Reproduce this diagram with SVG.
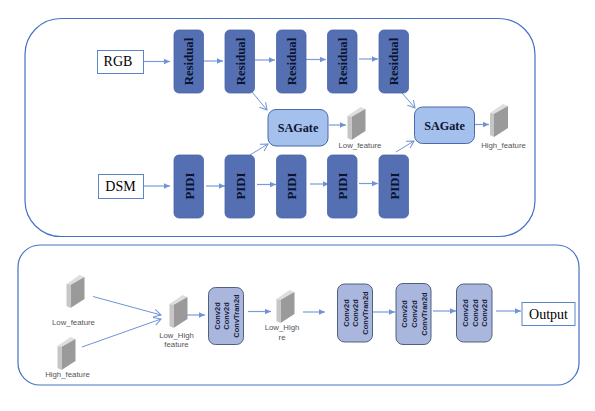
<svg xmlns="http://www.w3.org/2000/svg" width="595" height="411" viewBox="0 0 595 411">
<style>
.panel{fill:#fff;stroke:#4472c4;stroke-width:1.2}
.res{fill:#5470b3;stroke:#4a66a8;stroke-width:.8}
.sag{fill:#a4c0ec;stroke:#4a6aa8;stroke-width:1}
.conv{fill:#a9b6de;stroke:#44546a;stroke-width:.9}
.io{fill:#fff;stroke:#5b86c9;stroke-width:1}
.st{font-family:"Liberation Serif",serif;fill:#000;font-size:14px}
.b{font-weight:bold;font-size:12.800px;fill:#0b1330}
.s{font-size:12.200px}
.c{font-family:"Liberation Sans",sans-serif;font-weight:bold;font-size:7.500px;fill:#1a2238}
.l{font-family:"Liberation Sans",sans-serif;font-size:7.800px;fill:#555}
.cn{fill:none;stroke:#7a9bd8;stroke-width:1.200;marker-end:url(#a)}
.o{fill:none;stroke:#6f94d6;stroke-width:1;marker-end:url(#v)}
</style>
<defs>
<marker id="a" markerWidth="7" markerHeight="6" refX="6" refY="3" orient="auto" markerUnits="userSpaceOnUse"><path d="M0 0.300L6 3L0 5.700z" fill="#6f94d6"/></marker>
<marker id="v" markerWidth="10" markerHeight="10" refX="8" refY="5" orient="auto" markerUnits="userSpaceOnUse"><path d="M1 1L8 5L1 9" fill="none" stroke="#6f94d6" stroke-width="1"/></marker>
<g id="cub"><polygon points="0,9 13,0 18,2 5,11" fill="#dedede"/><polygon points="4,10 18,2 18,24 4,33" fill="#9a9a9a"/><polygon points="0,9 4,10 4,33 0,31" fill="#c6c6c6"/></g>
</defs>
<rect width="595" height="411" fill="#fff"/>
<rect class="panel" x="25" y="18.500" width="510" height="218" rx="36"/>
<rect class="panel" x="18" y="245" width="561" height="140" rx="22"/>
<g id="connectors">
<path class="cn" d="M144 61.500H170"/><path class="cn" d="M203.500 61H223"/><path class="cn" d="M255 60H275"/><path class="cn" d="M306 59.500H326"/><path class="cn" d="M359 59H378"/>
<path class="cn" d="M144 186H170"/><path class="cn" d="M206 186H225"/><path class="cn" d="M257 184.500H276"/><path class="cn" d="M310 184H329"/><path class="cn" d="M359 183.500H378"/>
<path class="o" d="M252 92L267 110"/><path class="o" d="M250 155L268 144"/>
<path class="o" d="M402 93L415 108"/><path class="o" d="M396 152L414 141"/>
<path class="cn" d="M329 125H346"/><path class="cn" d="M475 124.500H489"/>
<path class="o" d="M93 296.500L161 315"/><path class="o" d="M82 347L161 319"/>
<path class="cn" d="M186 315H205"/><path class="cn" d="M248 311.500H271"/><path class="cn" d="M303 312H325"/>
<path class="cn" d="M373 312H395"/><path class="cn" d="M433 311H456"/><path class="cn" d="M496 311H521"/>
</g>
<g id="rgb"><rect class="io" x="97.500" y="50.500" width="46" height="23"/><text class="st" x="118" y="66" text-anchor="middle">RGB</text></g>
<g id="dsm"><rect class="io" x="98.500" y="174.500" width="45" height="24"/><text class="st" x="120.500" y="191" text-anchor="middle">DSM</text></g>
<g id="res1"><rect class="res" x="174" y="30" width="29.500" height="63" rx="5"/><text class="st b" transform="translate(193 61.500) rotate(-90)" text-anchor="middle">Residual</text></g>
<g id="res2"><rect class="res" x="225" y="30" width="29.500" height="63" rx="5"/><text class="st b" transform="translate(244.500 61.500) rotate(-90)" text-anchor="middle">Residual</text></g>
<g id="res3"><rect class="res" x="276.500" y="30" width="29.500" height="63" rx="5"/><text class="st b" transform="translate(295.500 61.500) rotate(-90)" text-anchor="middle">Residual</text></g>
<g id="res4"><rect class="res" x="327.500" y="30" width="29.500" height="63" rx="5"/><text class="st b" transform="translate(346.500 61.500) rotate(-90)" text-anchor="middle">Residual</text></g>
<g id="res5"><rect class="res" x="379" y="30" width="29.500" height="63" rx="5"/><text class="st b" transform="translate(398 61.500) rotate(-90)" text-anchor="middle">Residual</text></g>
<g id="pidi1"><rect class="res" x="174" y="155" width="29.500" height="63" rx="5"/><text class="st b" transform="translate(193.500 186) rotate(-90)" text-anchor="middle">PIDI</text></g>
<g id="pidi2"><rect class="res" x="225" y="155" width="29.500" height="63" rx="5"/><text class="st b" transform="translate(244.500 186) rotate(-90)" text-anchor="middle">PIDI</text></g>
<g id="pidi3"><rect class="res" x="276.500" y="155" width="29.500" height="63" rx="5"/><text class="st b" transform="translate(296 186) rotate(-90)" text-anchor="middle">PIDI</text></g>
<g id="pidi4"><rect class="res" x="327.500" y="155" width="29.500" height="63" rx="5"/><text class="st b" transform="translate(347 186) rotate(-90)" text-anchor="middle">PIDI</text></g>
<g id="pidi5"><rect class="res" x="379" y="155" width="29.500" height="63" rx="5"/><text class="st b" transform="translate(399 186) rotate(-90)" text-anchor="middle">PIDI</text></g>
<g id="sagate1"><rect class="sag" x="268" y="109.500" width="60" height="36.500" rx="8"/><text class="st b s" x="298" y="132" text-anchor="middle">SAGate</text></g>
<g id="sagate2"><rect class="sag" x="414.500" y="107" width="60" height="36.500" rx="8"/><text class="st b s" x="444.500" y="129.500" text-anchor="middle">SAGate</text></g>
<g id="low1"><use href="#cub" x="347.500" y="107"/><text class="l" x="360" y="147.500" text-anchor="middle">Low_feature</text></g>
<g id="high1"><use href="#cub" x="490" y="104"/><text class="l" x="503.500" y="147.500" text-anchor="middle">High_feature</text></g>
<g id="low2"><use href="#cub" x="66.500" y="275"/><text class="l" x="73.500" y="325" text-anchor="middle">Low_feature</text></g>
<g id="high2"><use href="#cub" x="57.500" y="337"/><text class="l" x="67.500" y="377" text-anchor="middle">High_feature</text></g>
<g id="lh1"><use href="#cub" x="169.500" y="295"/><text class="l" x="176.500" y="337.500" text-anchor="middle">Low_High</text><text class="l" x="176.500" y="347" text-anchor="middle">feature</text></g>
<g id="lh2"><use href="#cub" x="276.500" y="290"/><text class="l" x="282" y="330" text-anchor="middle">Low_High</text><text class="l" x="282" y="340" text-anchor="middle">re</text></g>
<g id="conv1"><rect class="conv" x="208.500" y="287.500" width="35" height="57" rx="7"/><text class="c" transform="translate(219.500 316) rotate(-90)" text-anchor="middle">Conv2d</text><text class="c" transform="translate(229 316) rotate(-90)" text-anchor="middle">Conv2d</text><text class="c" transform="translate(238.500 316) rotate(-90)" text-anchor="middle">ConvTran2d</text></g>
<g id="conv2"><rect class="conv" x="337.500" y="284" width="35" height="58" rx="7"/><text class="c" transform="translate(348.500 313) rotate(-90)" text-anchor="middle">Conv2d</text><text class="c" transform="translate(358 313) rotate(-90)" text-anchor="middle">Conv2d</text><text class="c" transform="translate(368 313) rotate(-90)" text-anchor="middle">ConvTran2d</text></g>
<g id="conv3"><rect class="conv" x="396" y="283.500" width="35" height="61" rx="7"/><text class="c" transform="translate(406.500 314) rotate(-90)" text-anchor="middle">Conv2d</text><text class="c" transform="translate(416.500 314) rotate(-90)" text-anchor="middle">Conv2d</text><text class="c" transform="translate(426.500 314) rotate(-90)" text-anchor="middle">ConvTran2d</text></g>
<g id="conv4"><rect class="conv" x="456.500" y="284" width="35.500" height="58" rx="7"/><text class="c" transform="translate(467.500 313) rotate(-90)" text-anchor="middle">Conv2d</text><text class="c" transform="translate(477.500 313) rotate(-90)" text-anchor="middle">Conv2d</text><text class="c" transform="translate(487 313) rotate(-90)" text-anchor="middle">Conv2d</text></g>
<g id="output"><rect class="io" x="522" y="302.500" width="53" height="23"/><text class="st" x="548.500" y="319" text-anchor="middle">Output</text></g>
</svg>
